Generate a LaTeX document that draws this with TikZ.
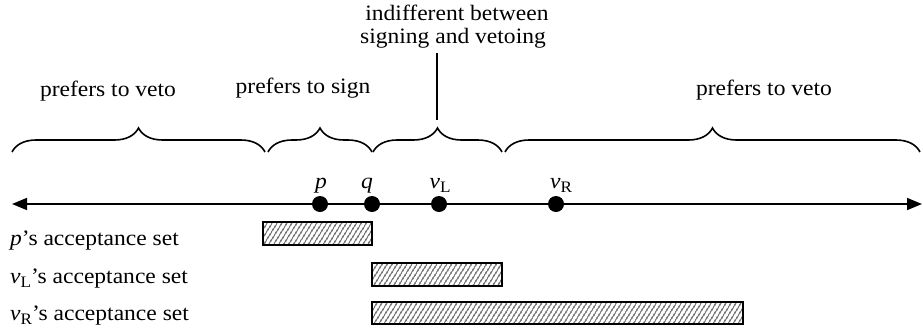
\documentclass[tikz,border=0pt]{standalone}
\usepackage{fontspec}
\setmainfont{Liberation Serif}[FakeStretch=1.07]
\usetikzlibrary{decorations.pathreplacing,patterns.meta,arrows.meta}
\newcommand\mysub[1]{\raisebox{-4pt}{\fontsize{16}{16}\selectfont #1}}
\begin{document}
\begin{tikzpicture}[x=1pt,y=-1pt,
  font=\fontsize{22}{26}\selectfont,
  dot/.style={circle,fill=black,minimum size=16pt,inner sep=0pt},
  lbl/.style={anchor=base,inner sep=0pt},
  hatch/.style={draw=black,line width=1.6pt,
    pattern={Lines[angle=58,distance=4pt,line width=1.2pt]},pattern color=black!80},
  brc/.style={decorate,decoration={brace,amplitude=24pt},line width=1.6pt},
  axis/.style={line width=1.6pt,{Triangle[length=15pt,width=12pt]}-{Triangle[length=15pt,width=12pt]}}]
\useasboundingbox (0,0) rectangle (923,327);

% axis
\coordinate (L) at (12,204);
\coordinate (R) at (922,204);
\draw[axis] (L) -- (R);

% dots
\node[dot] (p) at (320,204) {};
\node[dot] (q) at (372,204) {};
\node[dot] (vL) at (439,204) {};
\node[dot] (vR) at (556,204) {};

% dot labels
\node[lbl] (pl) at (321,188) {\textit{p}};
\node[lbl] (ql) at (367,188) {\textit{q}};
\node[lbl] (vLl) at (440,188) {\textit{v}\mysub{L}};
\node[lbl] (vRl) at (561,188) {\textit{v}\mysub{R}};

% braces
\coordinate (b1s) at (12,152);  \coordinate (b1e) at (265,152);
\coordinate (b2s) at (268,152); \coordinate (b2e) at (372,152);
\coordinate (b3s) at (373,152); \coordinate (b3e) at (502,152);
\coordinate (b4s) at (505,152); \coordinate (b4e) at (920,152);
\draw[brc] (b1s) -- (b1e);
\draw[brc] (b2s) -- (b2e);
\draw[brc] (b3s) -- (b3e);
\draw[brc] (b4s) -- (b4e);

% brace labels
\node[lbl] (veto1) at (108,96) {prefers to veto};
\node[lbl] (sign) at (303,93) {prefers to sign};
\node[lbl] (veto2) at (764,95) {prefers to veto};
\node[lbl] (ind1) at (457,20) {indifferent between};
\node[lbl] (ind2) at (453,43) {signing and vetoing};
\coordinate (c3) at (437,120);
\draw[line width=1.4pt] (c3 |- 0,53) -- (c3);

% acceptance sets
\draw[hatch] (263,222) rectangle (372,245);
\draw[hatch] (372,263) rectangle (502,286);
\draw[hatch] (372,302) rectangle (743,324);

\node[lbl,anchor=base west] (pset) at (10,245) {\textit{p}’s acceptance set};
\node[lbl,anchor=base west] (vLset) at (10,283) {\textit{v}\mysub{L}’s acceptance set};
\node[lbl,anchor=base west] (vRset) at (10,320) {\textit{v}\mysub{R}’s acceptance set};
\end{tikzpicture}
\end{document}
